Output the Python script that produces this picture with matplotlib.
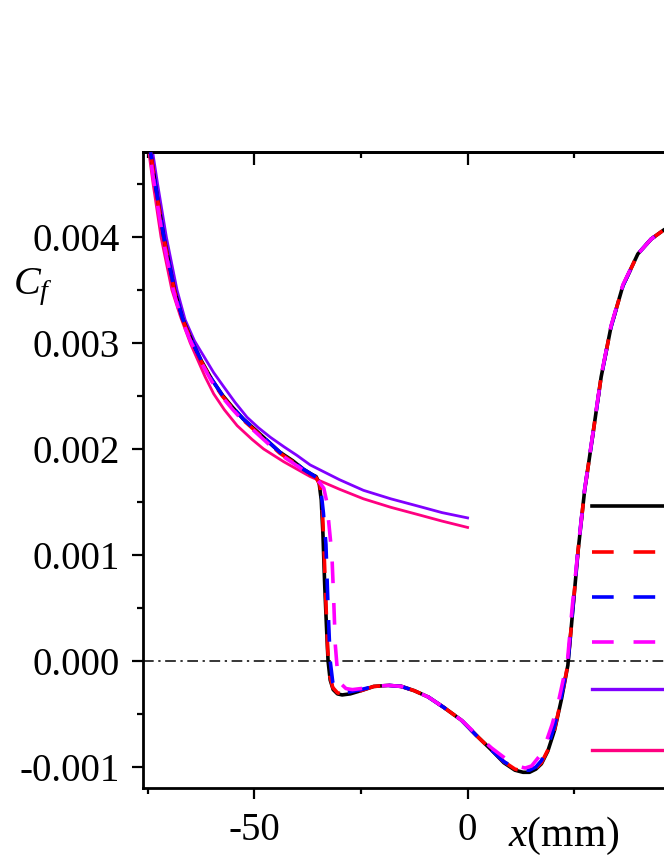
import matplotlib
matplotlib.use("Agg")
import matplotlib.pyplot as plt
from matplotlib.lines import Line2D
from matplotlib.ticker import MultipleLocator, FixedLocator

plt.rcParams['font.family'] = ['Liberation Serif', 'DejaVu Serif']
plt.rcParams['mathtext.fontset'] = 'custom'
plt.rcParams['mathtext.rm'] = 'Liberation Serif'
plt.rcParams['mathtext.it'] = 'Liberation Serif:italic'
plt.rcParams['axes.unicode_minus'] = False

# black solid curve (reference case)
black_x = [-74.3, -73.2, -71.2, -68.7, -66.8, -64.5, -62.5, -60.0, -57.5, -55.0,
           -52.5, -50.0, -47.0, -44.0, -41.0, -38.5, -36.5, -35.5, -34.8, -34.3,
           -33.9, -33.5, -33.1, -32.7, -32.2, -31.5, -30.5, -29.4, -27.5, -25.0,
           -22.0, -18.5, -15.5, -12.5, -9.2, -5.5, -1.4, 2.0, 5.6, 8.5,
           11.1, 13.0, 14.5, 16.0, 17.3, 18.8, 20.4, 22.0, 23.5, 24.7,
           25.9, 27.4, 29.4, 31.3, 33.6, 36.4, 39.9, 43.0, 46.1, 49.0]
black_y = [0.00480, 0.00450, 0.00400, 0.00350, 0.00323, 0.00301, 0.00284, 0.00266, 0.00251, 0.00239,
           0.00228, 0.00219, 0.00208, 0.00197, 0.00189, 0.00181, 0.00176, 0.00174, 0.00168, 0.00152,
           0.00120, 0.00073, 0.00035, 0.00000, -0.00018, -0.00027, -0.00031, -0.00032, -0.00031, -0.00028,
           -0.00024, -0.00023, -0.00024, -0.00028, -0.00034, -0.00044, -0.00056, -0.00070, -0.00084, -0.00096,
           -0.00103, -0.00105, -0.00105, -0.00102, -0.00097, -0.00085, -0.00065, -0.00036, -0.00004, 0.00050,
           0.00104, 0.00160, 0.00215, 0.00268, 0.00315, 0.00354, 0.00384, 0.00398, 0.00407, 0.00412]

# red dashed
red_x = [-74.3, -73.2, -71.2, -68.7, -66.8, -64.5, -62.5, -60.0, -57.5, -55.0,
         -52.5, -50.0, -47.0, -44.0, -41.0, -38.5, -36.5, -35.5, -34.6, -34.0,
         -33.6, -33.2, -32.8, -32.3, -31.6, -30.5, -29.4, -27.5, -25.0,
         -22.0, -18.5, -15.5, -12.5, -9.2, -5.5, -1.4, 2.0, 5.6, 8.5,
         11.1, 13.0, 14.5, 16.0, 17.3, 18.8, 20.4, 22.0, 23.5, 24.7,
         25.9, 27.4, 29.4, 31.3, 33.6, 36.4, 39.9, 43.0, 46.1, 49.0]
red_y = [0.00480, 0.00449, 0.00399, 0.00349, 0.00322, 0.00300, 0.00283, 0.00265, 0.00250, 0.00238,
         0.00227, 0.00218, 0.00207, 0.00196, 0.00188, 0.00180, 0.00175, 0.00173, 0.00166, 0.00140,
         0.00100, 0.00055, 0.00012, -0.00014, -0.00025, -0.00030, -0.00031, -0.00030, -0.00028,
         -0.00024, -0.00023, -0.00024, -0.00028, -0.00034, -0.00044, -0.00056, -0.00070, -0.00084, -0.00095,
         -0.00102, -0.00104, -0.00104, -0.00101, -0.00096, -0.00084, -0.00064, -0.00035, -0.00003, 0.00051,
         0.00105, 0.00160, 0.00215, 0.00268, 0.00315, 0.00354, 0.00384, 0.00398, 0.00407, 0.00412]

# blue dashed
blue_x = [-74.3, -73.2, -71.2, -68.7, -66.8, -64.5, -62.5, -60.0, -57.5, -55.0,
          -52.5, -50.0, -47.0, -44.0, -41.0, -38.5, -36.5, -35.4, -34.4, -33.8,
          -33.2, -32.7, -32.2, -31.6, -30.8, -29.6, -27.5, -25.0,
          -22.0, -18.5, -15.5, -12.5, -9.2, -5.5, -1.4, 2.0, 5.6, 8.5,
          11.1, 13.0, 14.5, 16.0, 17.3, 18.8, 20.4, 22.0, 23.5, 24.7,
          25.9, 27.4, 29.4, 31.3, 33.6, 36.4, 39.9, 43.0, 46.1, 49.0]
blue_y = [0.00480, 0.00450, 0.00400, 0.00350, 0.00323, 0.00301, 0.00284, 0.00266, 0.00251, 0.00239,
          0.00228, 0.00219, 0.00208, 0.00197, 0.00189, 0.00181, 0.00176, 0.00173, 0.00162, 0.00140,
          0.00110, 0.00050, 0.00000, -0.00020, -0.00027, -0.00030, -0.00029, -0.00027,
          -0.00024, -0.00023, -0.00024, -0.00028, -0.00034, -0.00044, -0.00056, -0.00070, -0.00084, -0.00095,
          -0.00101, -0.00103, -0.00103, -0.00100, -0.00094, -0.00081, -0.00061, -0.00033, -0.00002, 0.00052,
          0.00106, 0.00161, 0.00215, 0.00268, 0.00315, 0.00354, 0.00384, 0.00398, 0.00407, 0.00412]

# magenta dashed
mag_x = [-74.5, -73.4, -71.4, -68.9, -67.0, -64.7, -62.6, -60.0, -57.5, -55.0,
         -52.5, -50.0, -47.0, -44.0, -41.0, -38.5, -36.5, -35.5, -34.6, -33.7,
         -33.0, -32.4, -31.8, -31.4, -31.0, -30.5, -29.8, -28.5, -27.0, -25.0,
         -22.0, -18.5, -15.5, -12.5, -9.2, -5.5, -1.4, 2.0, 5.6, 9.2,
         11.5, 13.5, 15.0, 16.8, 18.1, 19.8, 21.2, 22.5, 23.4, 24.5,
         25.9, 27.4, 29.4, 31.3, 33.6, 36.4, 39.9, 43.0, 46.1, 49.0]
mag_y = [0.00480, 0.00449, 0.00399, 0.00349, 0.00322, 0.00300, 0.00283, 0.00264, 0.00249, 0.00237,
         0.00226, 0.00217, 0.00206, 0.00195, 0.00187, 0.00180, 0.00175, 0.00172, 0.00168, 0.00163,
         0.00150, 0.00125, 0.00100, 0.00060, 0.00015, -0.00010, -0.00021, -0.00026, -0.00027, -0.00026,
         -0.00024, -0.00023, -0.00024, -0.00028, -0.00034, -0.00044, -0.00056, -0.00069, -0.00082, -0.00093,
         -0.00099, -0.00101, -0.00099, -0.00090, -0.00080, -0.00060, -0.00040, -0.00016, 0.00000, 0.00050,
         0.00106, 0.00161, 0.00216, 0.00269, 0.00316, 0.00355, 0.00384, 0.00398, 0.00407, 0.00412]

# violet solid (upper theory curve)
violet_x = [-73.8, -72.65, -70.6, -68.1, -66.2, -64.0, -61.9, -59.5, -57.2, -54.5,
            -51.7, -49.0, -46.2, -43.0, -40.0, -36.9, -30.0, -24.4, -18.0, -11.5,
            -6.0, 0.0]
violet_y = [0.00480, 0.00450, 0.00400, 0.00350, 0.00322, 0.00302, 0.00288, 0.00272, 0.00259, 0.00244,
            0.00230, 0.00220, 0.00211, 0.00202, 0.00194, 0.00185, 0.00171, 0.00161, 0.00153, 0.00146,
            0.00140, 0.00135]

# pink solid (lower theory curve)
pink_x = [-74.7, -73.7, -71.85, -69.3, -67.3, -65.0, -63.8, -61.5, -59.5, -57.0,
          -54.0, -50.5, -47.8, -43.1, -36.9, -30.0, -24.4, -18.0, -11.5, -6.0,
          0.0]
pink_y = [0.00480, 0.00450, 0.00400, 0.00350, 0.00325, 0.00300, 0.00289, 0.00268, 0.00252, 0.00237,
          0.00222, 0.00209, 0.00200, 0.00188, 0.00174, 0.00162, 0.00153, 0.00145, 0.00138, 0.00132,
          0.00126]

yticks = [-0.001, 0.0, 0.001, 0.002, 0.003, 0.004]
ytick_labels = ['-0.001', '0.000', '0.001', '0.002', '0.003', '0.004']
xticks = [-50, 0, 50]
xtick_labels = ['-50', '0', '']   # the 50 label falls outside the cropped picture

W, H = 664, 860
fig = plt.figure(figsize=(W / 100, H / 100), dpi=100)
# axes runs past the right edge of the figure (the picture is a crop)
ax = fig.add_axes([143.3 / W, 1 - 788.2 / H, 751 / W, 636 / H])

dash = (6, 5.5)
ax.plot(violet_x, violet_y, color='#8000ff', lw=2.0, zorder=2)
ax.plot(pink_x, pink_y, color='#ff0080', lw=2.0, zorder=2)
ax.plot(black_x, black_y, color='black', lw=2.6, zorder=3)
ax.plot(red_x, red_y, color='#ff0000', lw=2.6, ls=(0, dash), zorder=4)
ax.plot(blue_x, blue_y, color='#0000ff', lw=2.6, ls=(4, dash), zorder=5)
ax.plot(mag_x, mag_y, color='#ff00ff', lw=2.6, ls=(8, dash), zorder=6)
ax.axhline(0, color='black', lw=1.1, ls=(0, (7, 3, 1.5, 3)), zorder=1)

ax.set_xlim(-76, 100)
ax.set_ylim(-0.0012, 0.0048)

ax.set_xticks(xticks, labels=xtick_labels)
ax.xaxis.set_minor_locator(MultipleLocator(25))
ax.yaxis.set_major_locator(FixedLocator(yticks))
ax.set_yticklabels(ytick_labels)
ax.yaxis.set_minor_locator(MultipleLocator(0.0005))

ax.tick_params(axis='both', which='major', direction='out', length=8, width=1.6,
               labelsize=28, pad=9)
ax.tick_params(axis='both', which='minor', direction='out', length=4.3, width=1.6)
ax.tick_params(right=False, top=False, which='both')
for s in ax.spines.values():
    s.set_linewidth(2.0)

top = ax.secondary_xaxis('top')
top.xaxis.set_major_locator(MultipleLocator(50))
top.xaxis.set_minor_locator(MultipleLocator(25))
top.tick_params(which='major', direction='in', length=9, width=1.6, labeltop=False)
top.tick_params(which='minor', direction='in', length=4.3, width=1.6)
top.spines['top'].set_linewidth(2.0)

ax.set_ylabel('$C_f$', fontsize=29, rotation=0, ha='left', va='center')
ax.yaxis.set_label_coords(-0.1735, 0.788)
ax.set_xlabel('$x$(mm)', fontsize=30, ha='left', va='center')
ax.xaxis.set_label_coords(0.4856, -0.075)

# legend handles (labels lie outside the cropped picture)
h1 = [Line2D([], [], color='black', lw=2.6),
      Line2D([], [], color='#ff0000', lw=2.6, ls=(0, dash)),
      Line2D([], [], color='#0000ff', lw=2.6, ls=(0, dash)),
      Line2D([], [], color='#ff00ff', lw=2.6, ls=(0, dash))]
h2 = [Line2D([], [], color='#8000ff', lw=2.4),
      Line2D([], [], color='#ff0080', lw=2.4)]
leg1 = ax.legend(h1, [''] * 4, loc='upper left', bbox_to_anchor=(591.7 / W, 1 - 493.7 / H),
                 bbox_transform=fig.transFigure, frameon=False, fontsize=26,
                 handlelength=2.6, borderpad=0, borderaxespad=0, labelspacing=0.335)
ax.add_artist(leg1)
ax.legend(h2, [''] * 2, loc='upper left', bbox_to_anchor=(591.7 / W, 1 - 676.7 / H),
          bbox_transform=fig.transFigure, frameon=False, fontsize=26,
          handlelength=2.6, borderpad=0, borderaxespad=0, labelspacing=0.75)

fig.savefig('out.png', dpi=100)
